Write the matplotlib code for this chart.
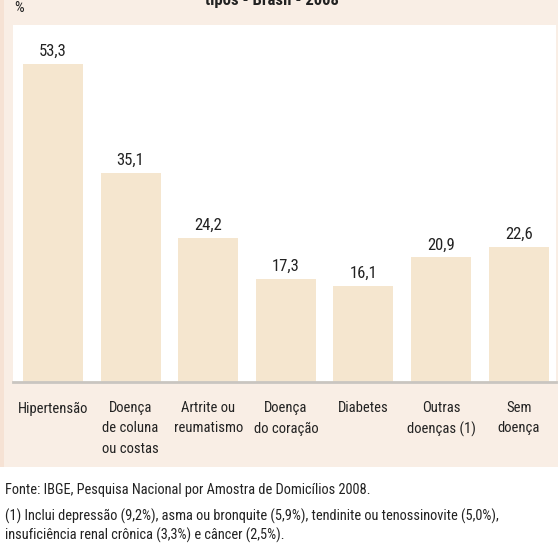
import matplotlib
matplotlib.use("Agg")
import matplotlib.pyplot as plt
from matplotlib.patches import Rectangle

categorias = ["Hipertensão", "Doença\nde coluna\nou costas", "Artrite ou\nreumatismo",
              "Doença\ndo coração", "Diabetes", "Outras\ndoenças (1)", "Sem\ndoença"]
valores = [53.3, 35.1, 24.2, 17.3, 16.1, 20.9, 22.6]
rotulos = ["53,3", "35,1", "24,2", "17,3", "16,1", "20,9", "22,6"]

titulo = "tipos - Brasil - 2008"
fonte = "Fonte: IBGE, Pesquisa Nacional por Amostra de Domicílios 2008."
nota = ("(1) Inclui depressão (9,2%), asma ou bronquite (5,9%), tendinite ou tenossinovite (5,0%),\n"
        "insuficiência renal crônica (3,3%) e câncer (2,5%).")

fam = ["Roboto Condensed", "Archivo Narrow", "Sofia Sans Condensed", "DejaVu Sans"]
plt.rcParams["font.family"] = fam

W, H = 558, 545
fig = plt.figure(figsize=(W / 100, H / 100), dpi=100)
fig.patch.set_facecolor("white")

# painel de fundo
fig.patches.append(Rectangle((0, 1 - 467 / H), 4 / W, 467 / H, transform=fig.transFigure,
                             facecolor="#f6e2d4", edgecolor="none", zorder=-2))
fig.patches.append(Rectangle((4 / W, 1 - 467 / H), 1, 467 / H, transform=fig.transFigure,
                             facecolor="#f9eee5", edgecolor="none", zorder=-2))

ax = fig.add_axes([13 / W, 1 - 382 / H, (556 - 13) / W, (382 - 25) / H])
ax.set_zorder(1)
ax.set_facecolor("white")
x = list(range(len(valores)))
ax.bar(x, valores, width=0.773, color="#f5e6cf", zorder=2)
for xi, v, r in zip(x, valores, rotulos):
    ax.text(xi, v + 1.35, r, ha="center", va="baseline", fontsize=12, color="#222222")

ax.set_xlim(-0.515, 6.48)
ax.set_ylim(0, 59.9)
for s in ["top", "right", "left"]:
    ax.spines[s].set_visible(False)
ax.spines["bottom"].set_color("#c9c5c0")
ax.spines["bottom"].set_linewidth(2)
ax.set_yticks([])
ax.set_xticks(x)
ax.set_xticklabels(categorias, fontsize=10.5, color="#222222", linespacing=1.55,
                   va="top")
ax.tick_params(axis="x", length=0, pad=14)

fig.text(272 / W, 1 - 5 / H, titulo, ha="center", va="baseline", fontsize=12,
         fontweight="bold", color="#222222")
fig.text(14 / W, 1 - 8 / H, "%", ha="left", va="center", fontsize=11, color="#222222")

fig.text(5 / W, 1 - 494 / H, fonte, ha="left", va="baseline", fontsize=10.4, color="#222222")
for i, linha in enumerate(nota.split("\n")):
    fig.text(5 / W, 1 - (521 + 19 * i) / H, linha, ha="left", va="baseline",
             fontsize=10.4, color="#222222")

fig.savefig("out.png", dpi=100, facecolor=fig.get_facecolor())
